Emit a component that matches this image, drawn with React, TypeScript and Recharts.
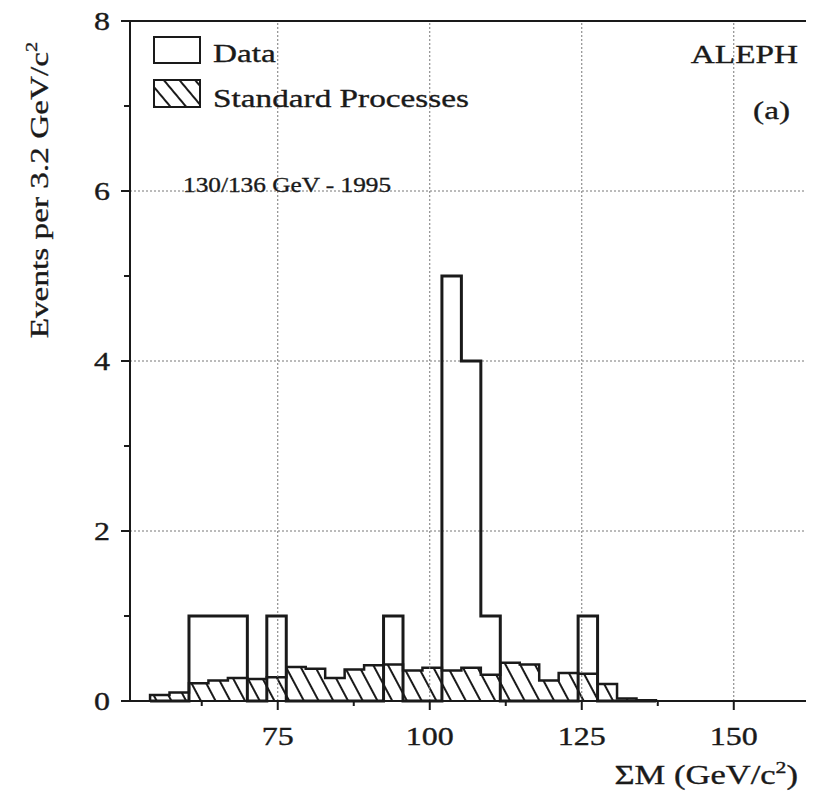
import React from "react";
import { ComposedChart, Area, Line, XAxis, YAxis, ReferenceLine } from "recharts";

// 3.2 GeV bins, lower edges
const binLow = [
  54.0, 57.2, 60.4, 63.6, 66.8, 70.0, 73.2, 76.4, 79.6, 82.8, 86.0, 89.2, 92.4,
  95.6, 98.8, 102.0, 105.2, 108.4, 111.6, 114.8, 118.0, 121.2, 124.4, 127.6, 130.8, 134.0,
];
const binWidth = 3.2;

const dataCounts = [0, 0, 1, 1, 1, 0, 1, 0, 0, 0, 0, 0, 1, 0, 0, 5, 4, 1, 0, 0, 0, 0, 1, 0, 0, 0];

const standardProcesses = [
  0.07, 0.1, 0.21, 0.24, 0.27, 0.26, 0.28, 0.4, 0.38, 0.27, 0.37, 0.42, 0.43,
  0.36, 0.39, 0.36, 0.39, 0.31, 0.45, 0.43, 0.24, 0.33, 0.32, 0.2, 0.03, 0.01,
];

const xTicks = [62.5, 75, 87.5, 100, 112.5, 125, 137.5, 150];
const xLabels = [75, 100, 125, 150];
const yTicks = [0, 1, 2, 3, 4, 5, 6, 7, 8];
const yLabels = [0, 2, 4, 6, 8];
const xGrid = [75, 100, 125, 150];
const yGrid = [2, 4, 6];

const X_MIN = 50.7;
const X_MAX = 162.7;
const INK = "#1a1a1a";
const FONT = "'Liberation Serif', 'Times New Roman', serif";

const lastIdx = binLow.length - 1;
const binEnd = Math.round((binLow[lastIdx] + binWidth) * 10) / 10;
const rows = [
  { x: binLow[0], mc: 0, data: 0 },
  ...binLow.map((x, i) => ({ x, mc: standardProcesses[i], data: dataCounts[i] })),
  { x: binEnd, mc: standardProcesses[lastIdx], data: dataCounts[lastIdx] },
  { x: binEnd, mc: 0, data: 0 },
];

// the figure's type is wide, so the serif is stretched sideways
function SText({ x, y, size = 26, sx = 1.28, anchor = "start", rotate = 0, children }: any) {
  return (
    <text
      transform={`translate(${x},${y}) rotate(${rotate}) scale(${sx},1)`}
      textAnchor={anchor}
      fontFamily={FONT}
      fontSize={size}
      fill={INK}
      stroke={INK}
      strokeWidth={0.35}
    >
      {children}
    </text>
  );
}

const YTick = (props: any) => {
  const { x, y, payload } = props;
  const major = yLabels.includes(payload.value);
  return (
    <g>
      <line x1={x - (major ? 9 : 6)} x2={x} y1={y} y2={y} stroke={INK} strokeWidth={2} />
      {major && (
        <SText x={x - 20} y={y + 9} size={25} anchor="end">
          {payload.value}
        </SText>
      )}
    </g>
  );
};

const XTick = (props: any) => {
  const { x, y, payload } = props;
  const major = xLabels.includes(payload.value);
  return (
    <g>
      <line x1={x} x2={x} y1={y} y2={y + (major ? 9 : 5)} stroke={INK} strokeWidth={2} />
      {major && (
        <SText x={x} y={y + 44} size={25} anchor="middle">
          {payload.value}
        </SText>
      )}
    </g>
  );
};

export default function App() {
  return (
    <div style={{ position: "relative", width: 806, height: 787 }}>
      <ComposedChart
        width={806}
        height={787}
        data={rows}
        margin={{ top: 13, right: 3, left: 0, bottom: 0 }}
      >
        <defs>
          <pattern
            id="hatch"
            patternUnits="userSpaceOnUse"
            width={13}
            height={13}
            patternTransform="rotate(-28)"
          >
            <line x1={1} y1={0} x2={1} y2={13} stroke={INK} strokeWidth={2} />
          </pattern>
        </defs>
        <XAxis
          dataKey="x"
          type="number"
          domain={[X_MIN, X_MAX]}
          allowDataOverflow
          ticks={xTicks}
          interval={0}
          tick={XTick}
          tickLine={false}
          tickSize={0}
          tickMargin={0}
          height={94}
          axisLine={{ stroke: INK, strokeWidth: 2 }}
        />
        <YAxis
          type="number"
          domain={[0, 8]}
          ticks={yTicks}
          interval={0}
          tick={YTick}
          tickLine={false}
          tickSize={0}
          tickMargin={0}
          width={122}
          axisLine={{ stroke: INK, strokeWidth: 2 }}
        />
        {xGrid.map((v) => (
          <ReferenceLine key={"gx" + v} x={v} stroke="#777" strokeWidth={1} strokeDasharray="2 2" />
        ))}
        {yGrid.map((v) => (
          <ReferenceLine key={"gy" + v} y={v} stroke="#777" strokeWidth={1} strokeDasharray="2 2" />
        ))}
        <Area
          dataKey="mc"
          type="stepAfter"
          stroke={INK}
          strokeWidth={2.5}
          fill="url(#hatch)"
          fillOpacity={1}
          isAnimationActive={false}
        />
        <Line
          dataKey="data"
          type="stepAfter"
          stroke={INK}
          strokeWidth={3}
          dot={false}
          activeDot={false}
          isAnimationActive={false}
        />
        <ReferenceLine y={8} stroke={INK} strokeWidth={2} />
        <ReferenceLine x={X_MAX} stroke={INK} strokeWidth={2} />
      </ComposedChart>

      <svg
        width={806}
        height={787}
        style={{ position: "absolute", left: 0, top: 0, pointerEvents: "none" }}
      >
        <defs>
          <pattern
            id="hatchLegend"
            patternUnits="userSpaceOnUse"
            width={12}
            height={12}
            patternTransform="rotate(-40)"
          >
            <line x1={1} y1={0} x2={1} y2={12} stroke={INK} strokeWidth={2} />
          </pattern>
        </defs>
        <rect x={146} y={29} width={46} height={26} fill="none" stroke={INK} strokeWidth={2} />
        <SText x={205} y={54}>Data</SText>
        <rect x={146} y={72} width={46} height={27} fill="url(#hatchLegend)" stroke={INK} strokeWidth={2} />
        <SText x={205} y={99}>Standard Processes</SText>
        <SText x={790} y={55} anchor="end">ALEPH</SText>
        <SText x={782} y={111} anchor="end">(a)</SText>
        <SText x={175} y={184} size={22} sx={1.15}>130/136 GeV - 1995</SText>
        <SText x={40} y={182} rotate={-90} anchor="middle">
          Events per 3.2 GeV/c
          <tspan dy={-11} fontSize={16}>2</tspan>
        </SText>
        <SText x={790} y={776} size={27} anchor="end">
          ΣM (GeV/c
          <tspan dy={-11} fontSize={17}>2</tspan>
          <tspan dy={11}>)</tspan>
        </SText>
      </svg>
    </div>
  );
}
